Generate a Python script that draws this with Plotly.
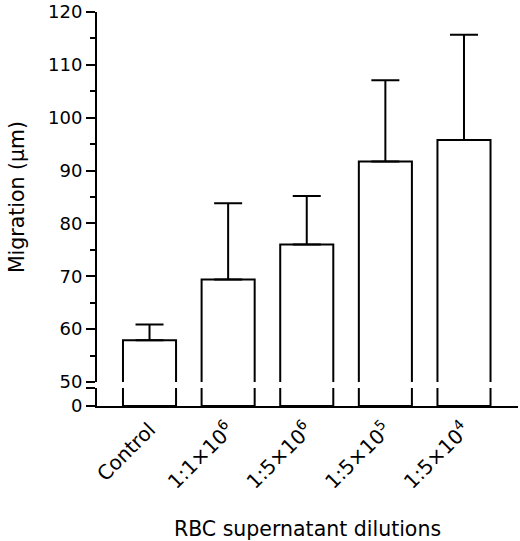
import plotly.graph_objects as go

categories = ["Control", "1:1×10<sup>6</sup>", "1:5×10<sup>6</sup>", "1:5×10<sup>5</sup>", "1:5×10<sup>4</sup>"]
migration = [57.9, 69.4, 76.0, 91.7, 95.8]
error_up = [3.0, 14.4, 9.2, 15.4, 19.9]
error_down = [0, 0, 0, 0, 0]

FONT = "DejaVu Sans"
BLACK = "#000000"
x_idx = list(range(len(categories)))

fig = go.Figure()

# upper (50-120) panel
fig.add_trace(go.Bar(
    x=x_idx, y=migration, xaxis="x2", yaxis="y2",
    width=0.675, marker=dict(color="white", line=dict(color=BLACK, width=2)),
    error_y=dict(type="data", symmetric=False, array=error_up, arrayminus=error_down,
                 color=BLACK, thickness=2, width=14),
    showlegend=False, hoverinfo="skip",
))
# lower (0) panel
fig.add_trace(go.Bar(
    x=x_idx, y=migration, xaxis="x", yaxis="y",
    width=0.675, marker=dict(color="white", line=dict(color=BLACK, width=2)),
    showlegend=False, hoverinfo="skip",
))

low_top = 3.4
fig.update_layout(
    width=520, height=541,
    margin=dict(l=97, r=2, t=12, b=135, autoexpand=False),
    paper_bgcolor="white", plot_bgcolor="white",
    font=dict(family=FONT, size=18, color=BLACK),
    xaxis=dict(
        domain=[0, 1], anchor="y", range=[-0.668, 4.687], automargin=False,
        tickmode="array", tickvals=x_idx, ticktext=categories, tickangle=-45,
        showline=True, linecolor=BLACK, linewidth=2,
        ticks="outside", ticklen=2, tickcolor="rgba(0,0,0,0)",
        showgrid=False, zeroline=False,
        title=dict(text="RBC supernatant dilutions", standoff=30, font=dict(size=20.5)),
        tickfont=dict(size=20),
    ),
    xaxis2=dict(
        domain=[0, 1], anchor="y2", matches="x", range=[-0.668, 4.687], automargin=False,
        visible=False, showgrid=False, zeroline=False,
    ),
    yaxis=dict(
        domain=[0, 0.0456], anchor="x", range=[0, low_top], automargin=False,
        tickmode="array", tickvals=[0, low_top], ticktext=["0", ""],
        ticks="outside", ticklen=9, tickwidth=2, tickcolor=BLACK,
        showline=True, linecolor=BLACK, linewidth=2,
        showgrid=False, zeroline=False, tickfont=dict(size=18),
    ),
    yaxis2=dict(
        domain=[0.0608, 1], anchor="x2", range=[50, 120], automargin=False,
        tickmode="linear", tick0=50, dtick=10, ticklabeloverflow="allow",
        ticks="outside", ticklen=9, tickwidth=2, tickcolor=BLACK,
        minor=dict(dtick=5, tick0=50, ticks="outside", ticklen=5, tickwidth=2, tickcolor=BLACK),
        showline=True, linecolor=BLACK, linewidth=2,
        showgrid=False, zeroline=False, tickfont=dict(size=18),
        title=dict(text="Migration (μm)", standoff=18, font=dict(size=20.5)),
    ),
)

fig.write_html("out.html", config={"displayModeBar": False},
               post_script="document.body.style.margin='0px';")
